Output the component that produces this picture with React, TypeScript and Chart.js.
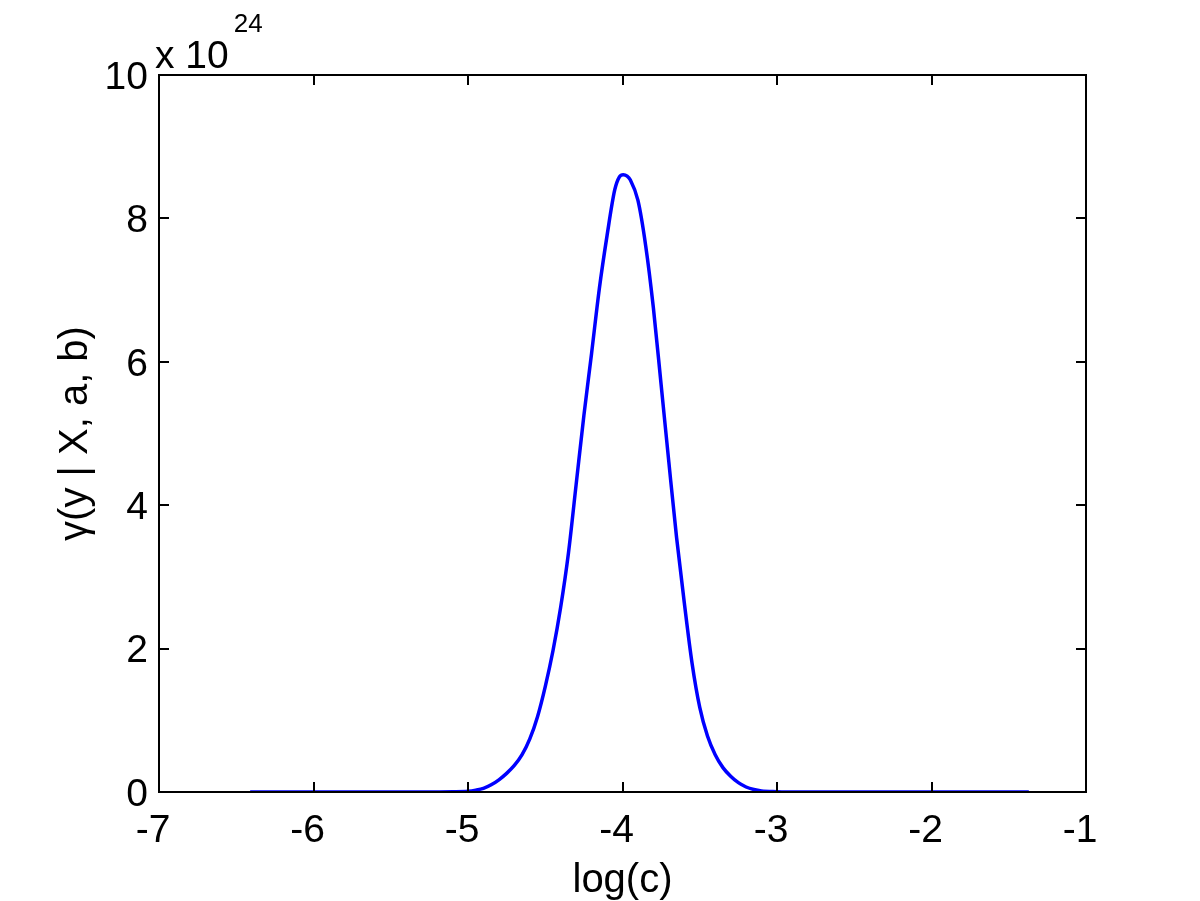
import React, { useEffect, useRef } from "react";
import { Chart, registerables } from "chart.js";

Chart.register(...registerables);

// log(c) positions
const logC: number[] = [
  -6.41, -6.0, -5.5, -5.3, -5.1, -5.0, -4.95, -4.9, -4.85, -4.8, -4.75, -4.7, -4.65, -4.6,
  -4.55, -4.5, -4.45, -4.4, -4.35, -4.3, -4.25, -4.2, -4.15, -4.1, -4.05, -4.02, -3.995,
  -3.97, -3.95, -3.9, -3.85, -3.8, -3.75, -3.7, -3.65, -3.6, -3.55, -3.5, -3.45, -3.4,
  -3.35, -3.3, -3.25, -3.2, -3.15, -3.1, -3.0, -2.9, -2.5, -2.0, -1.37,
];

// gamma(y | X, a, b) in units of 10^24
const gammaVals: number[] = [
  0, 0, 0, 0, 0.003, 0.01, 0.025, 0.05, 0.1, 0.17, 0.26, 0.37, 0.52, 0.74,
  1.05, 1.47, 1.97, 2.58, 3.33, 4.29, 5.25, 6.12, 7.02, 7.76, 8.4, 8.58, 8.61,
  8.59, 8.54, 8.25, 7.62, 6.75, 5.68, 4.6, 3.55, 2.64, 1.8, 1.18, 0.78, 0.52,
  0.34, 0.22, 0.13, 0.07, 0.035, 0.015, 0.005, 0, 0, 0, 0,
];

const xTicks: number[] = [-7, -6, -5, -4, -3, -2, -1];
const yTicks: number[] = [0, 2, 4, 6, 8, 10];
const exponentLabel = "24";
const xTitle = "log(c)";
const yTitle = "γ(y | X, a, b)";

const FONT = "'Liberation Sans', Arial, Helvetica, sans-serif";

const boxPlugin = {
  id: "matlabBox",
  afterDraw(chart: any) {
    const { ctx, chartArea, scales } = chart;
    const { left, right, top, bottom } = chartArea;
    ctx.save();
    ctx.strokeStyle = "#000";
    ctx.lineWidth = 2;
    ctx.beginPath();
    ctx.rect(left, top, right - left, bottom - top);
    ctx.stroke();
    const tl = 10;
    ctx.beginPath();
    for (const v of xTicks) {
      const px = Math.round(scales.x.getPixelForValue(v));
      ctx.moveTo(px, bottom);
      ctx.lineTo(px, bottom - tl);
      ctx.moveTo(px, top);
      ctx.lineTo(px, top + tl);
    }
    for (const v of yTicks) {
      const py = Math.round(scales.y.getPixelForValue(v));
      ctx.moveTo(left, py);
      ctx.lineTo(left + tl, py);
      ctx.moveTo(right, py);
      ctx.lineTo(right - tl, py);
    }
    ctx.stroke();
    // exponent label
    ctx.fillStyle = "#000";
    ctx.textBaseline = "alphabetic";
    ctx.textAlign = "left";
    ctx.font = `39px ${FONT}`;
    ctx.fillText("x 10", left - 4, top - 7);
    const w = ctx.measureText("x 10").width;
    ctx.font = `26px ${FONT}`;
    ctx.fillText(exponentLabel, left - 4 + w + 5, top - 43);
    ctx.restore();
  },
};

export default function App() {
  const canvasRef = useRef<HTMLCanvasElement | null>(null);

  useEffect(() => {
    if (!canvasRef.current) return;
    const points = logC.map((x, i) => ({ x, y: gammaVals[i] }));
    const chart = new Chart(canvasRef.current, {
      type: "line",
      data: {
        datasets: [
          {
            data: points,
            borderColor: "#0000ff",
            borderWidth: 3.5,
            pointRadius: 0,
            fill: false,
            cubicInterpolationMode: "monotone",
          },
        ],
      },
      options: {
        animation: false,
        responsive: false,
        devicePixelRatio: 1,
        layout: { padding: { top: 75, right: 114, left: 0, bottom: 0 } },
        plugins: { legend: { display: false }, tooltip: { enabled: false } },
        scales: {
          x: {
            type: "linear",
            min: -7,
            max: -1,
            afterFit: (s: any) => {
              s.height = 109;
            },
            afterBuildTicks: (s: any) => {
              s.ticks = xTicks.map((v) => ({ value: v }));
            },
            grid: { display: false, drawTicks: false },
            border: { display: false },
            ticks: {
              color: "#000",
              padding: 16,
              labelOffset: -6,
              maxRotation: 0,
              font: { family: FONT, size: 39 },
              callback: (v: any) => String(v),
            },
            title: {
              display: true,
              text: xTitle,
              color: "#000",
              font: { family: FONT, size: 40, lineHeight: 1 },
              padding: { top: 0, bottom: 0 },
            },
          },
          y: {
            type: "linear",
            min: 0,
            max: 10,
            afterFit: (s: any) => {
              s.width = 159;
            },
            afterBuildTicks: (s: any) => {
              s.ticks = yTicks.map((v) => ({ value: v }));
            },
            grid: { display: false, drawTicks: false },
            border: { display: false },
            ticks: {
              color: "#000",
              padding: 11,
              labelOffset: 3,
              font: { family: FONT, size: 39 },
              callback: (v: any) => String(v),
            },
            title: {
              display: true,
              text: yTitle,
              color: "#000",
              font: { family: FONT, size: 40, lineHeight: 1 },
              padding: { top: 56, bottom: 0 },
            },
          },
        },
      },
      plugins: [boxPlugin],
    });
    return () => chart.destroy();
  }, []);

  return (
    <div style={{ position: "absolute", left: 0, top: 0, width: 1200, height: 901, background: "#fff" }}>
      <canvas ref={canvasRef} width={1200} height={901} />
    </div>
  );
}
